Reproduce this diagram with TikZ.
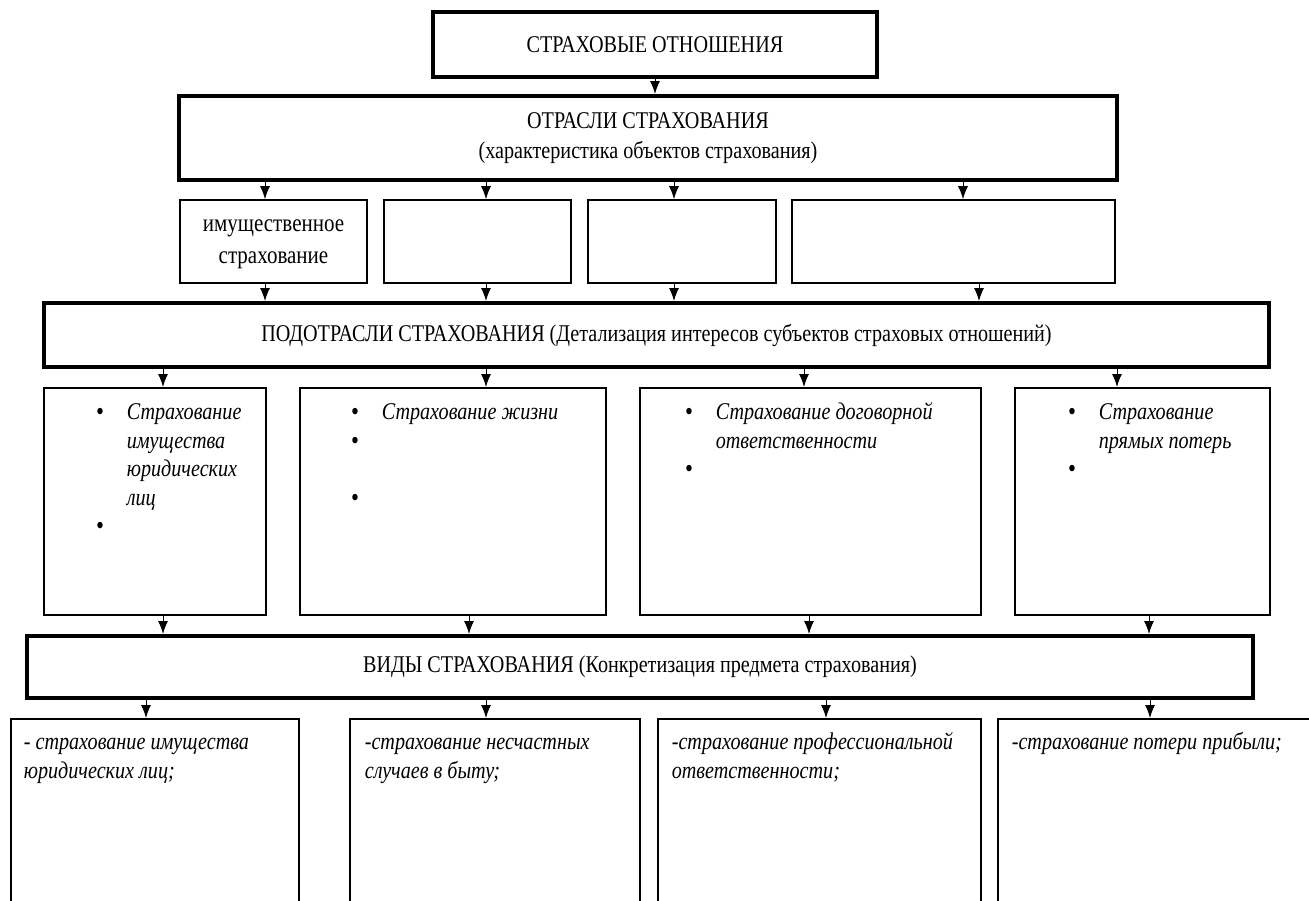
\documentclass[tikz,border=0pt]{standalone}
\usepackage{fontspec}
\setmainfont[FakeStretch=0.84]{Liberation Serif}
\usetikzlibrary{arrows.meta}

\newcommand{\hd}{\fontsize{24}{30}\selectfont}
\newcommand{\bul}{\leavevmode\llap{\raisebox{-1pt}{\fontsize{27}{0}\selectfont\textbullet}\hspace{23pt}}}
% box with text set from the top: width, height, indent, first baseline, text
\newcommand{\inbox}[5]{\parbox[t][#2pt][t]{#1pt}{\fontsize{24}{28.5}\selectfont\itshape
  \raggedright\leftskip=#3pt\relax\rule{0pt}{#4pt}#5}}

\begin{document}
\begin{tikzpicture}[x=1pt, y=-1pt, >={Latex[length=13pt,width=10pt]},
  main/.style={draw, line width=4pt, inner sep=0, align=center, font=\hd},
  sub/.style={draw, line width=1.6pt, inner sep=0, align=center,
    font=\fontsize{25}{32}\selectfont, minimum height=83},
  lst/.style={draw, line width=1.6pt, inner sep=0, anchor=north west}]
\useasboundingbox (0,0) rectangle (1309,900);
\clip (0,0) rectangle (1309,900);

\node[main, minimum width=444, minimum height=65] (rel) at (655,44.5) {СТРАХОВЫЕ ОТНОШЕНИЯ};
\node[main, minimum width=938, minimum height=84] (otr) at (648,138)
  {ОТРАСЛИ СТРАХОВАНИЯ\\(характеристика объектов страхования)};

\node[sub, minimum width=187] (o1) at (273.5,241.5)
  {\rule{0pt}{20pt}имущественное\\страхование\rule[-8pt]{0pt}{0pt}};
\node[sub, minimum width=187] (o2) at (477.5,241.5) {};
\node[sub, minimum width=188] (o3) at (682,241.5) {};
\node[sub, minimum width=323] (o4) at (953.5,241.5) {};

\node[main, minimum width=1225, minimum height=64] (podotr) at (656.5,335)
  {ПОДОТРАСЛИ СТРАХОВАНИЯ (Детализация интересов субъектов страховых отношений)};

\node[lst] (p1) at (43,387) {\inbox{222}{227}{83}{32}{\bul Страхование\\имущества\\юридических\\лиц\\\bul\strut}};
\node[lst] (p2) at (299,387) {\inbox{306}{227}{82}{32}{\bul Страхование жизни\\\bul\strut\\\mbox{}\\\bul\strut}};
\node[lst] (p3) at (639,387) {\inbox{341}{227}{76}{32}{\bul Страхование договорной\\ответственности\\\bul\strut}};
\node[lst] (p4) at (1014,387) {\inbox{255}{227}{84}{32}{\bul Страхование\\прямых потерь\\\bul\strut}};

\node[main, minimum width=1226, minimum height=62] (vidy) at (640,667)
  {ВИДЫ СТРАХОВАНИЯ (Конкретизация предмета страхования)};

\node[lst] (v1) at (10,718) {\inbox{288}{200}{13}{31}{- страхование имущества\\юридических лиц;}};
\node[lst] (v2) at (349,718) {\inbox{290}{200}{15}{31}{-страхование несчастных\\случаев в быту;}};
\node[lst] (v3) at (657,718) {\inbox{323}{200}{14}{31}{-страхование профессиональной\\ответственности;}};
\node[lst] (v4) at (997,718) {\inbox{333}{200}{14}{31}{-страхование потери прибыли;}};

\path[->, line width=1pt]
  (rel.south) edge (rel.south |- otr.north)
  (otr.south -| 265,0) edge (o1.north -| 265,0)
  (otr.south -| 486,0) edge (o2.north -| 486,0)
  (otr.south -| 674,0) edge (o3.north -| 674,0)
  (otr.south -| 963,0) edge (o4.north -| 963,0)
  (o1.south -| 265,0) edge (podotr.north -| 265,0)
  (o2.south -| 486,0) edge (podotr.north -| 486,0)
  (o3.south -| 674,0) edge (podotr.north -| 674,0)
  (o4.south -| 979,0) edge (podotr.north -| 979,0)
  (podotr.south -| 163,0) edge (p1.north -| 163,0)
  (podotr.south -| 486,0) edge (p2.north -| 486,0)
  (podotr.south -| 804,0) edge (p3.north -| 804,0)
  (podotr.south -| 1117,0) edge (p4.north -| 1117,0)
  (p1.south -| 163,0) edge (vidy.north -| 163,0)
  (p2.south -| 469,0) edge (vidy.north -| 469,0)
  (p3.south -| 809,0) edge (vidy.north -| 809,0)
  (p4.south -| 1149,0) edge (vidy.north -| 1149,0)
  (vidy.south -| 146,0) edge (v1.north -| 146,0)
  (vidy.south -| 486,0) edge (v2.north -| 486,0)
  (vidy.south -| 826,0) edge (v3.north -| 826,0)
  (vidy.south -| 1150,0) edge (v4.north -| 1150,0);
\end{tikzpicture}
\end{document}
